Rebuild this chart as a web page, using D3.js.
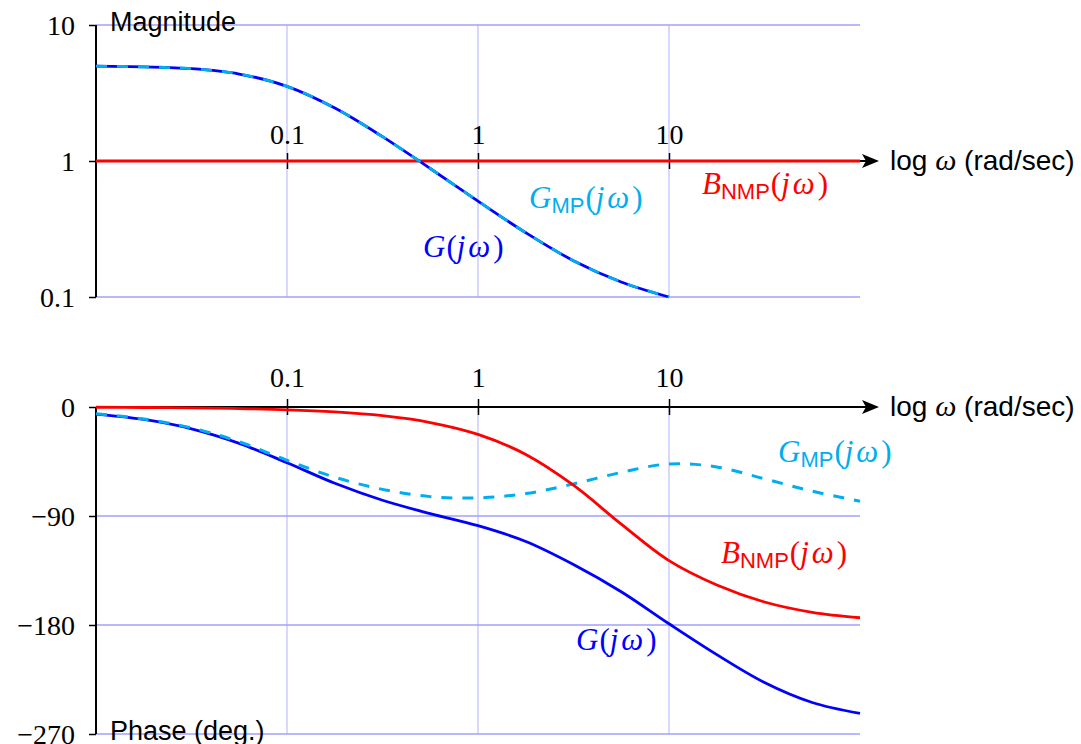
<!DOCTYPE html>
<html>
<head>
<meta charset="utf-8">
<script src="https://cdn.jsdelivr.net/npm/d3@7"></script>
<style>
  body { margin: 0; background: #fff; }
  svg { display: block; }
  .tick text { font-family: "Liberation Serif", serif; font-size: 28px; fill: #000; }
  .sans { font-family: "Liberation Sans", sans-serif; font-size: 27px; }
</style>
</head>
<body>
<div id="chart"></div>
<script>
// frequencies (rad/sec), quarter-decade samples
var omega = [0.01, 0.0178, 0.0316, 0.0562, 0.1, 0.178, 0.316, 0.562, 1, 1.78, 3.16, 5.62, 10, 17.8, 31.6, 56.2, 100];

// magnitude (G and G_MP overlap), read up to w = 10
var magG = [4.98, 4.92, 4.77, 4.36, 3.54, 2.45, 1.51, 0.881, 0.507, 0.297, 0.185, 0.129, 0.100];
var magB = [1, 1, 1, 1, 1, 1, 1, 1, 1, 1, 1, 1, 1, 1, 1, 1, 1];

// phase in degrees
var phaseG   = [-5.8, -10.3, -18, -30, -46, -63, -77, -88, -98, -111, -130, -152.5, -179, -204.5, -227.5, -244, -253];
var phaseGMP = [-5.6, -9.9, -17.2, -28.7, -44, -58, -68, -74, -75, -71.5, -63.5, -54, -47, -49.5, -59.3, -69.5, -77.8];
var phaseB   = [-0.2, -0.4, -0.7, -1.3, -2.3, -4.1, -7.2, -12.8, -22.6, -39.2, -64.6, -96.7, -126.9, -147, -161, -169.5, -174];

var xTicks = [0.1, 1, 10];
var magTicks = [10, 1, 0.1];
var phaseTicks = [0, -90, -180, -270];

var W = 1081, H = 744;
var blue = "#0000ff", cyan = "#00aeef", red = "#ff0000";

var svg = d3.select("#chart").append("svg")
    .attr("width", W)
    .attr("height", H);

var x = d3.scaleLog().domain([0.01, 100]).range([96, 860]);
var yMag = d3.scaleLog().domain([0.1, 10]).range([297, 25]);
var yPh = d3.scaleLinear().domain([-270, 0]).range([734, 407]);

function drawGrid(y, yTicks) {
    var g = svg.append("g");
    g.selectAll(".vgrid")
        .data(xTicks)
        .enter()
        .append("line")
        .attr("x1", function (d) { return x(d); })
        .attr("x2", function (d) { return x(d); })
        .attr("y1", y.range()[0])
        .attr("y2", y.range()[1])
        .style("stroke", "#c4c4ff")
        .style("stroke-width", 1.3);
    g.selectAll(".hgrid")
        .data(yTicks)
        .enter()
        .append("line")
        .attr("x1", x(0.01))
        .attr("x2", x(100))
        .attr("y1", function (d) { return y(d); })
        .attr("y2", function (d) { return y(d); })
        .style("stroke", "#a0a0f8")
        .style("stroke-width", 1.3);
}

function drawAxes(y, yTicks, axisY, pad) {
    // left axis
    var left = svg.append("g")
        .attr("transform", "translate(" + x(0.01) + ",0)")
        .call(d3.axisLeft(y).tickValues(yTicks).tickSize(7).tickPadding(14).tickFormat(d3.format("~g")));
    left.select(".domain").style("stroke-width", 2).attr("d", "M0," + y.range()[0] + "V" + y.range()[1]);
    left.selectAll(".tick line").style("stroke-width", 1.5);
    left.selectAll(".tick text").attr("dy", "0.33em");

    // horizontal frequency axis with arrow
    svg.append("line")
        .attr("x1", x(0.01)).attr("x2", 868)
        .attr("y1", axisY).attr("y2", axisY)
        .style("stroke", "#000").style("stroke-width", 2);
    svg.append("path")
        .attr("d", "M879," + axisY + "L862," + (axisY - 7) + "L866," + axisY + "L862," + (axisY + 7) + "Z")
        .style("fill", "#000");
    var bottom = svg.append("g")
        .attr("transform", "translate(0," + axisY + ")")
        .call(d3.axisTop(x).tickValues(xTicks).tickSize(8).tickPadding(pad).tickFormat(d3.format("~g")));
    bottom.select(".domain").remove();
    bottom.selectAll(".tick line").attr("y1", 8).style("stroke-width", 1.5);

    var lab = svg.append("text")
        .attr("class", "sans")
        .attr("x", 890)
        .attr("y", axisY + 9)
        .style("font-size", "28px");
    lab.append("tspan").text("log ");
    lab.append("tspan")
        .style("font-family", "Liberation Serif, serif")
        .style("font-style", "italic")
        .style("font-size", "30px")
        .text("\u03c9");
    lab.append("tspan").text(" (rad/sec)");
}

function curve(y) {
    return d3.line()
        .x(function (d) { return x(d[0]); })
        .y(function (d) { return y(d[1]); })
        .curve(d3.curveCatmullRom);
}

function zipW(vals) {
    return vals.map(function (v, i) { return [omega[i], v]; });
}

function mathLabel(px, py, letter, sub, color) {
    var t = svg.append("text")
        .attr("x", px)
        .attr("y", py)
        .style("fill", color)
        .style("font-family", "Liberation Serif, serif")
        .style("font-size", "31px");
    t.append("tspan").style("font-style", "italic").text(letter);
    if (sub) {
        t.append("tspan")
            .attr("dy", 5)
            .style("font-family", "Liberation Sans, sans-serif")
            .style("font-size", "22px")
            .text(sub);
        t.append("tspan").attr("dy", -5).attr("dx", 1).text("(");
    } else {
        t.append("tspan").attr("dx", 1).text("(");
    }
    t.append("tspan").style("font-style", "italic").text("j");
    t.append("tspan").attr("dx", 3).style("font-style", "italic").text("\u03c9");
    t.append("tspan").attr("dx", 3).text(")");
}

// ---------- magnitude plot ----------
drawGrid(yMag, magTicks);
drawAxes(yMag, magTicks, yMag(1), 9);

svg.append("path")
    .datum(zipW(magB))
    .attr("d", curve(yMag))
    .style("fill", "none").style("stroke", red).style("stroke-width", 2.8);
svg.append("path")
    .datum(zipW(magG))
    .attr("d", curve(yMag))
    .style("fill", "none").style("stroke", blue).style("stroke-width", 2.8);
svg.append("path")
    .datum(zipW(magG))
    .attr("d", curve(yMag))
    .style("fill", "none").style("stroke", cyan).style("stroke-width", 2.8)
    .style("stroke-dasharray", "11,10");

svg.append("text").attr("class", "sans").attr("x", 110).attr("y", 31).text("Magnitude");

mathLabel(702, 194, "B", "NMP", red);
mathLabel(529, 208, "G", "MP", cyan);
mathLabel(423, 257, "G", null, blue);

// ---------- phase plot ----------
drawGrid(yPh, phaseTicks);
drawAxes(yPh, phaseTicks, yPh(0), 12);

svg.append("path")
    .datum(zipW(phaseG))
    .attr("d", curve(yPh))
    .style("fill", "none").style("stroke", blue).style("stroke-width", 2.8);
svg.append("path")
    .datum(zipW(phaseGMP))
    .attr("d", curve(yPh))
    .style("fill", "none").style("stroke", cyan).style("stroke-width", 3)
    .style("stroke-dasharray", "11,10");
svg.append("path")
    .datum(zipW(phaseB))
    .attr("d", curve(yPh))
    .style("fill", "none").style("stroke", red).style("stroke-width", 2.8);

svg.append("text").attr("class", "sans").attr("x", 110).attr("y", 740).text("Phase (deg.)");

mathLabel(778, 462, "G", "MP", cyan);
mathLabel(721, 563, "B", "NMP", red);
mathLabel(576, 650, "G", null, blue);
</script>
</body>
</html>
